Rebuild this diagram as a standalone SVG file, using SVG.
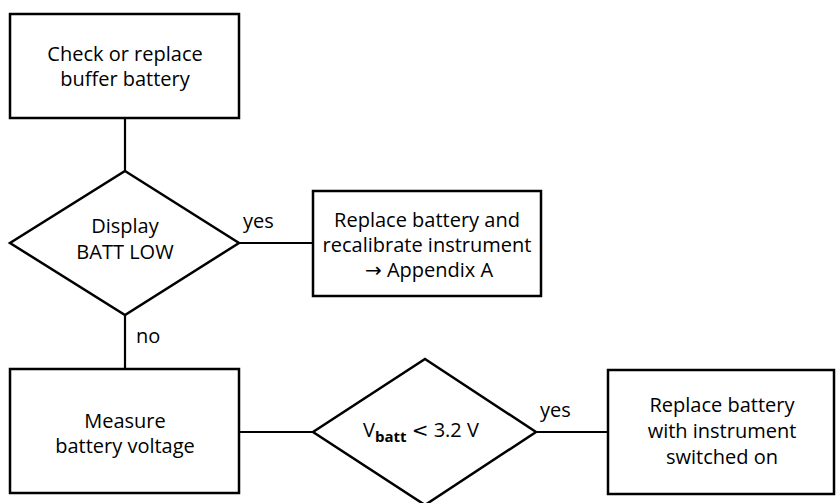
<svg xmlns="http://www.w3.org/2000/svg" width="836" height="503" viewBox="0 0 836 503">
  <style>
    .shape { fill: #fff; stroke: #000; stroke-width: 2.5; stroke-linejoin: miter; }
    .link { fill: none; stroke: #000; stroke-width: 2.2; }
    text { font-family: "Open Sans", "Noto Sans", sans-serif; font-size: 20px; fill: #000; }
    .mid { text-anchor: middle; }
    .sub { font-size: 15px; font-weight: bold; }
    .sym { font-family: "DejaVu Sans", sans-serif; }
  </style>
  <rect width="836" height="503" fill="#fff"/>

  <!-- connectors -->
  <g id="connectors">
    <line class="link" x1="125" y1="118" x2="125" y2="171"/>
    <line class="link" x1="239" y1="243" x2="313" y2="243"/>
    <line class="link" x1="125" y1="315" x2="125" y2="369"/>
    <line class="link" x1="239" y1="432" x2="313" y2="432"/>
    <line class="link" x1="536" y1="432" x2="608" y2="432"/>
    <text x="243" y="228">yes</text>
    <text x="136" y="343">no</text>
    <text x="540" y="417">yes</text>
  </g>

  <g id="check-battery">
    <rect class="shape" x="10" y="14" width="229" height="104"/>
    <text class="mid" x="125" y="61">Check or replace</text>
    <text class="mid" x="125" y="86">buffer battery</text>
  </g>

  <g id="batt-low">
    <polygon class="shape" points="125,171 239,243 125,315 10,243"/>
    <text class="mid" x="125" y="233">Display</text>
    <text class="mid" x="125" y="259">BATT LOW</text>
  </g>

  <g id="replace-recalibrate">
    <rect class="shape" x="313" y="191" width="228" height="105"/>
    <text class="mid" x="427" y="227">Replace battery and</text>
    <text class="mid" x="427" y="252">recalibrate instrument</text>
    <text x="365" y="277"><tspan class="sym">→</tspan> Appendix A</text>
  </g>

  <g id="measure-voltage">
    <rect class="shape" x="10" y="369" width="229" height="124"/>
    <text class="mid" x="125" y="428">Measure</text>
    <text class="mid" x="125" y="453">battery voltage</text>
  </g>

  <g id="voltage-check">
    <polygon class="shape" points="425,359 536,432 425,505 313,432"/>
    <text x="363" y="437">V<tspan class="sub" dy="5">batt</tspan><tspan dy="-5"> </tspan><tspan class="sym">&lt;</tspan> 3.2 V</text>
  </g>

  <g id="replace-powered">
    <rect class="shape" x="608" y="370" width="226" height="124"/>
    <text class="mid" x="722" y="412">Replace battery</text>
    <text class="mid" x="722" y="438">with instrument</text>
    <text class="mid" x="722" y="464">switched on</text>
  </g>
</svg>
